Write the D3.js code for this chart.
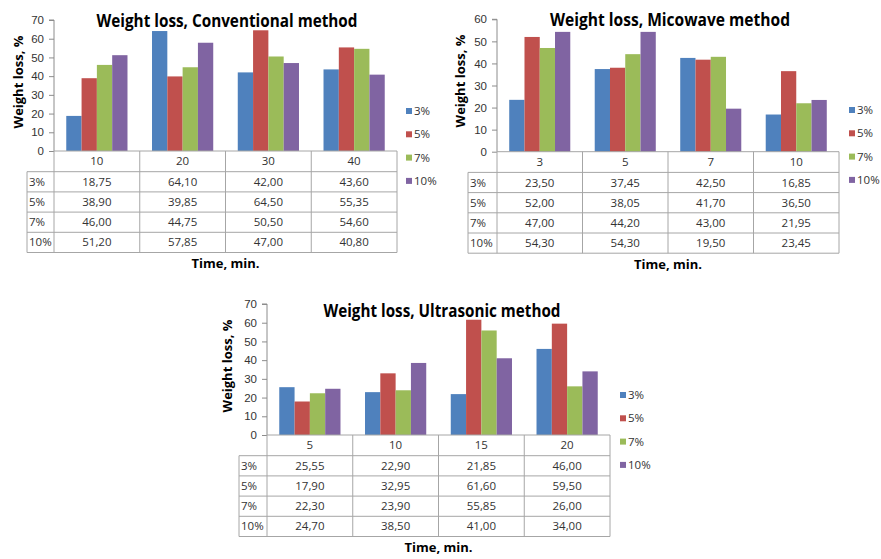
<!DOCTYPE html>
<html>
<head>
<meta charset="utf-8">
<script src="https://cdn.jsdelivr.net/npm/d3@7"></script>
<style>
  html, body { margin: 0; padding: 0; background: #ffffff; }
  svg { display: block; font-family: "Open Sans", "Liberation Sans", sans-serif; }
</style>
</head>
<body>
<svg id="chart" width="881" height="559"></svg>
<script>
// Concentration series shared by all three methods
const seriesNames = ["3%", "5%", "7%", "10%"];
const seriesColors = ["#4F81BD", "#C0504D", "#9BBB59", "#8064A2"];

// Conventional method
const convTimes = ["10", "20", "30", "40"];
const conv3 = [18.75, 64.10, 42.00, 43.60];
const conv5 = [38.90, 39.85, 64.50, 55.35];
const conv7 = [46.00, 44.75, 50.50, 54.60];
const conv10 = [51.20, 57.85, 47.00, 40.80];
const convTicks = [0, 10, 20, 30, 40, 50, 60, 70];

// Microwave method
const microTimes = ["3", "5", "7", "10"];
const micro3 = [23.50, 37.45, 42.50, 16.85];
const micro5 = [52.00, 38.05, 41.70, 36.50];
const micro7 = [47.00, 44.20, 43.00, 21.95];
const micro10 = [54.30, 54.30, 19.50, 23.45];
const microTicks = [0, 10, 20, 30, 40, 50, 60];

// Ultrasonic method
const ultraTimes = ["5", "10", "15", "20"];
const ultra3 = [25.55, 22.90, 21.85, 46.00];
const ultra5 = [17.90, 32.95, 61.60, 59.50];
const ultra7 = [22.30, 23.90, 55.85, 26.00];
const ultra10 = [24.70, 38.50, 41.00, 34.00];
const ultraTicks = [0, 10, 20, 30, 40, 50, 60, 70];

const svg = d3.select("#chart");
const fmt = v => d3.format(".2f")(v).replace(".", ",");
const textColor = "#333333";

function drawPanel(p) {
  const g = svg.append("g");
  const rows = p.values;

  const x = d3.scaleBand().domain(p.times).range([p.left, p.right]).padding(0);
  const pad = x.bandwidth() * 0.143;
  const xs = d3.scaleBand().domain(seriesNames).range([pad, x.bandwidth() - pad]).padding(0);
  const y = d3.scaleLinear().domain([0, d3.max(p.ticks)]).range([p.base, p.top]);

  // bars
  seriesNames.forEach((s, si) => {
    g.append("g").selectAll("rect")
      .data(p.times.map((t, ti) => ({ t, v: rows[si][ti] })))
      .join("rect")
      .attr("x", d => x(d.t) + xs(s))
      .attr("y", d => y(d.v))
      .attr("width", xs.bandwidth())
      .attr("height", d => y(0) - y(d.v))
      .attr("fill", seriesColors[si]);
  });

  // value axis
  const yAxis = d3.axisLeft(y).tickValues(p.ticks).tickSize(5).tickPadding(5).tickFormat(d3.format("d"));
  const ax = g.append("g").attr("transform", `translate(${p.left},0)`).call(yAxis);
  ax.select(".domain").attr("stroke", "#8c8c8c").attr("d", `M-5,${p.top}H0V${p.base}`);
  ax.selectAll(".tick line").attr("stroke", "#8c8c8c");
  ax.selectAll(".tick text").attr("fill", textColor).style("font-size", "11.5px");

  // data table under the category axis
  const headerH = 20.7, rowH = 20.2;
  const tableBottom = p.base + headerH + rowH * rows.length;
  const lineColor = "#a6a6a6";
  const tg = g.append("g").attr("stroke", lineColor).attr("stroke-width", 1).attr("fill", "none");
  // horizontal lines
  tg.append("line").attr("x1", p.left).attr("x2", p.right).attr("y1", p.base).attr("y2", p.base);
  d3.range(rows.length + 1).forEach(i => {
    const yy = p.base + headerH + rowH * i;
    tg.append("line").attr("x1", p.tableLeft).attr("x2", p.right).attr("y1", yy).attr("y2", yy);
  });
  // vertical lines
  tg.append("line").attr("x1", p.tableLeft).attr("x2", p.tableLeft).attr("y1", p.base + headerH).attr("y2", tableBottom);
  p.times.forEach(t => {
    tg.append("line").attr("x1", x(t)).attr("x2", x(t)).attr("y1", p.base).attr("y2", tableBottom);
  });
  tg.append("line").attr("x1", p.right).attr("x2", p.right).attr("y1", p.base).attr("y2", tableBottom);

  const txt = g.append("g").attr("fill", textColor).style("font-size", "11.5px");
  // category header
  txt.selectAll("text.hdr").data(p.times).join("text")
    .attr("class", "hdr")
    .attr("x", t => x(t) + x.bandwidth() / 2)
    .attr("y", p.base + headerH / 2)
    .attr("dy", "0.35em")
    .attr("text-anchor", "middle")
    .text(t => t);
  // rows
  seriesNames.forEach((s, si) => {
    const cy = p.base + headerH + rowH * si + rowH / 2;
    txt.append("text").attr("x", p.tableLeft + 2).attr("y", cy).attr("dy", "0.35em").text(s);
    txt.selectAll(null).data(p.times.map((t, ti) => ({ t, v: rows[si][ti] }))).join("text")
      .attr("x", d => x(d.t) + x.bandwidth() / 2)
      .attr("y", cy)
      .attr("dy", "0.35em")
      .attr("text-anchor", "middle")
      .text(d => fmt(d.v));
  });

  // title
  g.append("text")
    .attr("x", p.titleX).attr("y", p.titleY).attr("dy", "0.35em")
    .attr("text-anchor", "middle")
    .attr("font-weight", "bold").style("font-size", "17px").attr("fill", "#000")
    .attr("textLength", p.titleW).attr("lengthAdjust", "spacingAndGlyphs")
    .text(p.title);

  // axis titles
  g.append("text")
    .attr("transform", `translate(${p.ylabX},${p.ylabY}) rotate(-90)`)
    .attr("dy", "0.35em").attr("text-anchor", "middle")
    .attr("font-weight", "bold").style("font-size", "13px").attr("fill", "#000")
    .text("Weight loss, %");
  g.append("text")
    .attr("x", (p.left + p.right) / 2).attr("y", tableBottom + 11).attr("dy", "0.35em")
    .attr("text-anchor", "middle")
    .attr("font-weight", "bold").style("font-size", "13px").attr("fill", "#000")
    .text("Time, min.");

  // legend
  const lg = g.append("g").attr("transform", `translate(${p.legX},${p.legY})`);
  seriesNames.forEach((s, si) => {
    const it = lg.append("g").attr("transform", `translate(0,${si * 23.3})`);
    it.append("rect").attr("x", 0).attr("y", -3).attr("width", 6).attr("height", 6).attr("fill", seriesColors[si]);
    it.append("text").attr("x", 8).attr("y", 0).attr("dy", "0.35em")
      .attr("fill", textColor).style("font-size", "11.5px").text(s);
  });
}

drawPanel({
  times: convTimes, values: [conv3, conv5, conv7, conv10], ticks: convTicks,
  left: 54, right: 397, top: 20, base: 151, tableLeft: 27,
  title: "Weight loss, Conventional method", titleX: 227, titleY: 21, titleW: 261,
  ylabX: 18, ylabY: 82, legX: 406, legY: 111
});

drawPanel({
  times: microTimes, values: [micro3, micro5, micro7, micro10], ticks: microTicks,
  left: 497, right: 839, top: 19.3, base: 151.7, tableLeft: 468,
  title: "Weight loss, Micowave method", titleX: 670, titleY: 20, titleW: 240,
  ylabX: 460, ylabY: 81, legX: 849, legY: 110
});

drawPanel({
  times: ultraTimes, values: [ultra3, ultra5, ultra7, ultra10], ticks: ultraTicks,
  left: 267, right: 610, top: 304, base: 435, tableLeft: 239,
  title: "Weight loss, Ultrasonic method", titleX: 442, titleY: 311, titleW: 237,
  ylabX: 227, ylabY: 366, legX: 620, legY: 395
});
</script>
</body>
</html>
